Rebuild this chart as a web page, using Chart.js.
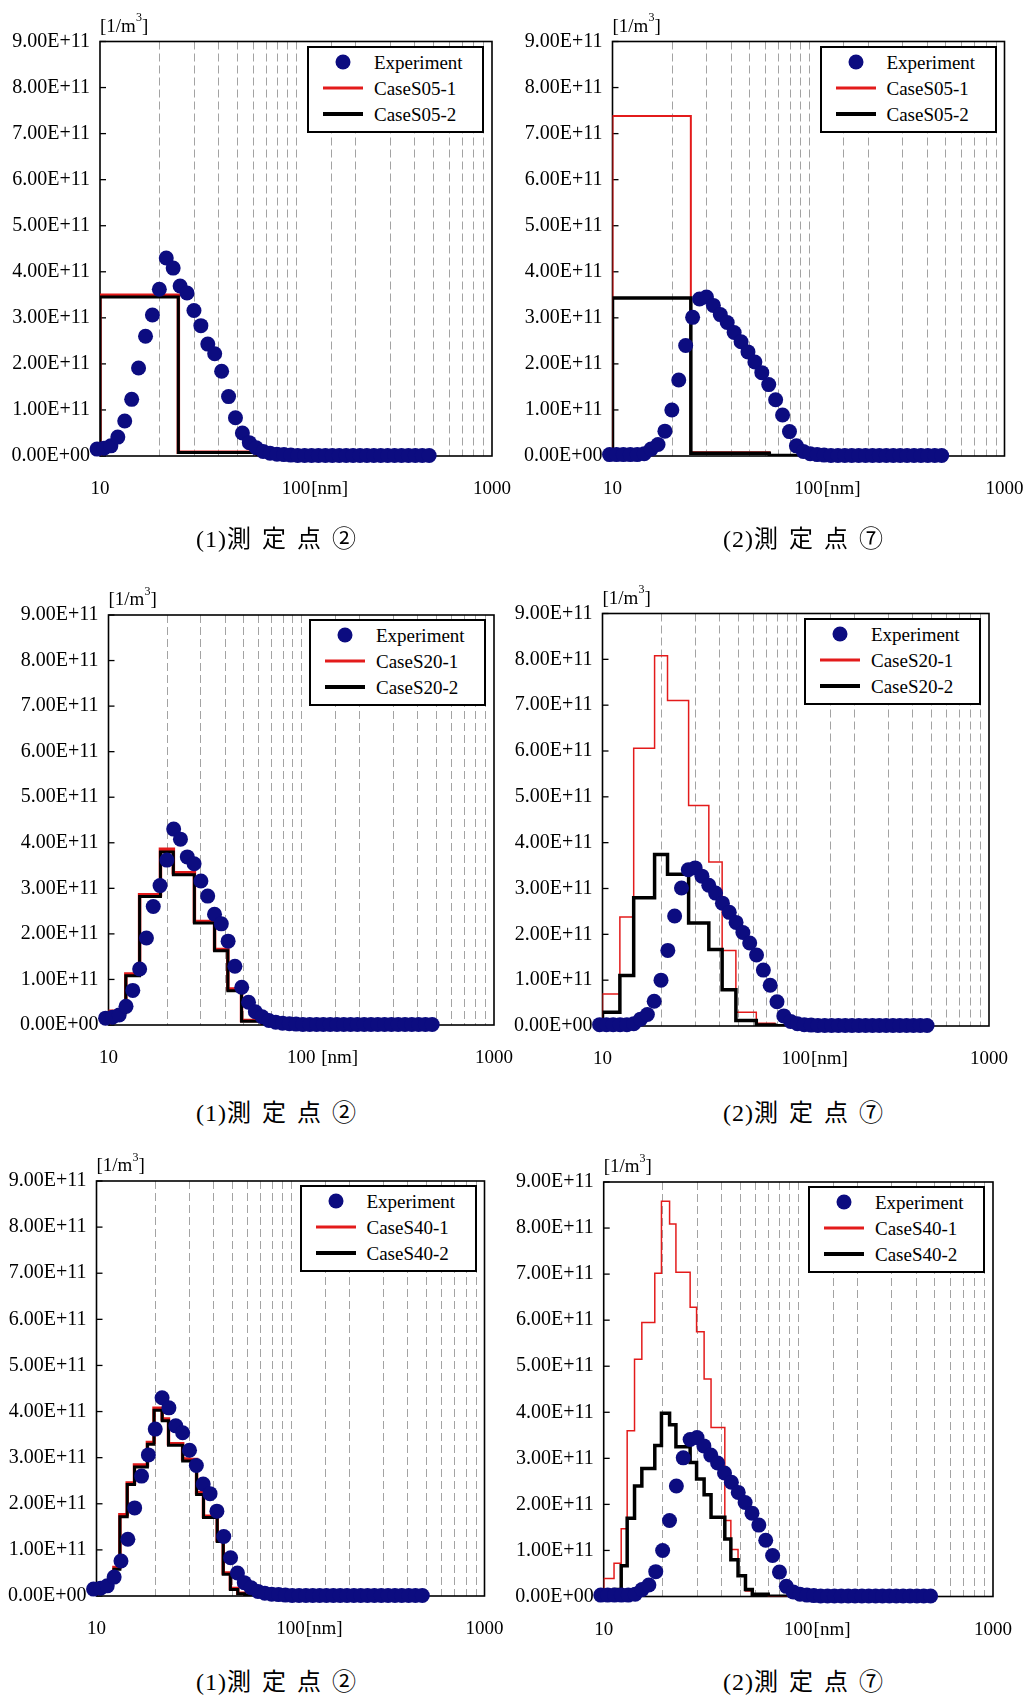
<!DOCTYPE html>
<html lang="ja">
<head>
<meta charset="utf-8">
<title>粒径分布の比較</title>
<script src="https://cdn.jsdelivr.net/npm/chart.js@4.4.1/dist/chart.umd.min.js"></script>
<style>
  html, body { margin: 0; padding: 0; background: #fff; overflow: hidden; }
  body { position: relative; width: 1025px; height: 1697px;
         font-family: "Liberation Serif", "Times New Roman", serif; color: #000; }
  canvas { position: absolute; }
  .unit { position: absolute; font-size: 19px; line-height: 20px; white-space: nowrap; transform: translateY(-50%); }
  .unit sup { font-size: 12px; line-height: 0; position: relative; top: -3px; }
  .legend { position: absolute; box-sizing: border-box; border: 2px solid #000; background: #fff; width: 177px; height: 87px; }
  .legend .item { position: absolute; left: 0; width: 100%; height: 26px; }
  .legend .sym { position: absolute; left: 34px; top: 50%; transform: translate(-50%, -50%); }
  .legend .dot { width: 15px; height: 15px; border-radius: 50%; }
  .legend .line { width: 40px; }
  .legend .txt { position: absolute; left: 65px; top: 50%; transform: translateY(-50%);
                 font-size: 19px; line-height: 1; white-space: nowrap; }
  .caption { position: absolute; transform: translate(-50%, -50%); white-space: nowrap; font-size: 24px; line-height: 1; }
  .caption .num { font-family: "Liberation Serif", serif; letter-spacing: 1px; }
  .caption .jp { font-family: "Noto Sans CJK JP", sans-serif; letter-spacing: 11px; margin-right: -11px; }
</style>
</head>
<body>
<script>
// Particle number concentration, in units of 10^11 per m^3.
const UNIT = 1e11;

// Measured mobility diameters [nm]
const diameters = [9.66, 10.48, 11.36, 12.33, 13.37, 14.51, 15.73, 17.07, 18.51, 20.08,
  21.78, 23.62, 25.63, 27.80, 30.16, 32.71, 35.48, 38.48, 41.74, 45.28,
  49.11, 53.27, 57.78, 62.67, 67.98, 73.74, 79.98, 86.76, 94.09, 102.0,
  110.7, 120.1, 130.2, 141.3, 153.2, 166.2, 180.3, 195.5, 212.1, 230.0,
  249.5, 270.6, 293.6, 318.4, 345.4, 374.6, 406.3, 440.7, 478.0];

// Experiment, measuring point 2
const exp2 = [0.15, 0.17, 0.22, 0.41, 0.76, 1.23, 1.91, 2.60, 3.06, 3.62,
  4.30, 4.08, 3.69, 3.54, 3.16, 2.83, 2.43, 2.22, 1.84, 1.29,
  0.83, 0.50, 0.29, 0.18, 0.10, 0.06, 0.04, 0.03, 0.02, 0.01,
  0.01, 0.01, 0.01, 0.01, 0.01, 0.01, 0.01, 0.01, 0.01, 0.01,
  0.01, 0.01, 0.01, 0.01, 0.01, 0.01, 0.01, 0.01, 0.01];

// Experiment, measuring point 7
const exp7 = [0.03, 0.03, 0.03, 0.03, 0.03, 0.05, 0.15, 0.25, 0.54, 1.00,
  1.65, 2.40, 3.01, 3.41, 3.45, 3.27, 3.07, 2.90, 2.68, 2.48,
  2.26, 2.04, 1.81, 1.55, 1.22, 0.89, 0.53, 0.22, 0.10, 0.05,
  0.03, 0.02, 0.01, 0.01, 0.01, 0.01, 0.01, 0.01, 0.01, 0.01,
  0.01, 0.01, 0.01, 0.01, 0.01, 0.01, 0.01, 0.01, 0.01];

// Sectional model: section boundaries [nm] and section concentrations
const edgesS05 = [10, 25.1, 63.1, 158.5, 398.1, 500];
const caseS05_1_pt2 = [3.49, 0.08, 0.005, 0.002, 0.001];
const caseS05_2_pt2 = [3.45, 0.075, 0.004, 0.002, 0.001];
const caseS05_1_pt7 = [7.38, 0.08, 0.02, 0.002, 0.001];
const caseS05_2_pt7 = [3.43, 0.06, 0.01, 0.002, 0.001];

const edgesS20 = [10, 12.3, 14.5, 18.6, 21.7, 27.9, 35.5, 41.6, 49.0, 62.5, 78.0, 500];
const caseS20_1_pt2 = [0.30, 1.12, 2.86, 3.86, 3.34, 2.27, 1.66, 0.79, 0.10, 0.01, 0.002];
const caseS20_2_pt2 = [0.27, 1.08, 2.82, 3.80, 3.30, 2.24, 1.63, 0.75, 0.08, 0.01, 0.002];
const caseS20_1_pt7 = [0.70, 2.38, 6.06, 8.08, 7.10, 4.81, 3.58, 1.65, 0.30, 0.06, 0.005];
const caseS20_2_pt7 = [0.30, 1.10, 2.80, 3.74, 3.31, 2.25, 1.67, 0.79, 0.12, 0.02, 0.003];

const edgesS40 = [10, 11.3, 12.3, 13.2, 14.4, 15.7, 18.3, 19.8, 21.8, 23.5, 27.8,
  30.0, 32.8, 35.6, 41.9, 45.0, 49.0, 53.5, 58.0, 70.0, 500];
const caseS40_1_pt2 = [0.20, 0.32, 0.62, 1.76, 2.45, 2.84, 3.33, 4.07, 3.84, 3.30,
  2.97, 2.96, 2.24, 1.73, 1.21, 0.50, 0.16, 0.06, 0.02, 0.003];
const caseS40_2_pt2 = [0.18, 0.30, 0.58, 1.72, 2.42, 2.80, 3.29, 4.03, 3.80, 3.27,
  2.93, 2.93, 2.20, 1.70, 1.18, 0.47, 0.14, 0.05, 0.02, 0.003];
const caseS40_1_pt7 = [0.39, 0.72, 1.47, 3.60, 5.15, 5.95, 7.02, 8.58, 8.09, 7.04,
  6.28, 5.75, 4.72, 3.67, 1.65, 1.02, 0.45, 0.12, 0.04, 0.005];
const caseS40_2_pt7 = [0.05, 0.15, 0.67, 1.70, 2.40, 2.78, 3.28, 3.98, 3.73, 3.25,
  2.91, 2.55, 2.21, 1.72, 1.25, 0.80, 0.45, 0.15, 0.05, 0.005];

// Axis labels
const xTickLabels = [10, 100, 1000];
const yMax = 9;

const NAVY = '#0c0c80';
const RED = '#e31b1b';
const X_FONT = { family: 'Liberation Serif', size: 19 };
const Y_FONT = { family: 'Liberation Serif', size: 20 };

// Page layout of the six panels (canvas box and plot area, page pixels)
const panels = [
  { box: [0, 0, 545, 520], area: { l: 100, t: 41.5, r: 492, b: 456 },
    edges: edgesS05, exp: exp2, case1: caseS05_1_pt2, case2: caseS05_2_pt2,
    names: ['CaseS05-1', 'CaseS05-2'], widths: [3.5, 3], xUnit: '[nm]',
    caption: ['(1)', '測定点②'], capPos: [276, 538] },
  { box: [512, 0, 545, 520], area: { l: 612.5, t: 41.5, r: 1004.5, b: 456 },
    edges: edgesS05, exp: exp7, case1: caseS05_1_pt7, case2: caseS05_2_pt7,
    names: ['CaseS05-1', 'CaseS05-2'], widths: [2, 3.5], xUnit: '[nm]',
    caption: ['(2)', '測定点⑦'], capPos: [803, 538] },
  { box: [0, 570, 545, 520], area: { l: 108.5, t: 615, r: 494, b: 1025 },
    edges: edgesS20, exp: exp2, case1: caseS20_1_pt2, case2: caseS20_2_pt2,
    names: ['CaseS20-1', 'CaseS20-2'], widths: [3.5, 3], xUnit: ' [nm]',
    caption: ['(1)', '測定点②'], capPos: [276, 1112] },
  { box: [512, 570, 545, 520], area: { l: 602.5, t: 613.5, r: 989, b: 1026 },
    edges: edgesS20, exp: exp7, case1: caseS20_1_pt7, case2: caseS20_2_pt7,
    names: ['CaseS20-1', 'CaseS20-2'], widths: [1.5, 3.5], xUnit: '[nm]',
    caption: ['(2)', '測定点⑦'], capPos: [803, 1112] },
  { box: [0, 1140, 545, 520], area: { l: 96.5, t: 1181, r: 484.5, b: 1596 },
    edges: edgesS40, exp: exp2, case1: caseS40_1_pt2, case2: caseS40_2_pt2,
    names: ['CaseS40-1', 'CaseS40-2'], widths: [3.5, 3], xUnit: '[nm]',
    caption: ['(1)', '測定点②'], capPos: [276, 1681] },
  { box: [512, 1140, 545, 520], area: { l: 603.7, t: 1182, r: 993, b: 1596.5 },
    edges: edgesS40, exp: exp7, case1: caseS40_1_pt7, case2: caseS40_2_pt7,
    names: ['CaseS40-1', 'CaseS40-2'], widths: [1.5, 3.5], xUnit: '[nm]',
    caption: ['(2)', '測定点⑦'], capPos: [803, 1681] }
];

function sciLabel(v) {
  if (v === 0) return '0.00E+00';
  const e = Math.floor(Math.log10(v) + 1e-9);
  const m = v / Math.pow(10, e);
  return m.toFixed(2) + 'E' + (e < 0 ? '-' : '+') + String(Math.abs(e)).padStart(2, '0');
}

function xLabel(v) {
  const hit = xTickLabels.find(l => Math.abs(l - v) / l < 1e-6);
  return hit ? String(hit) : '';
}

// Histogram outline of a sectional distribution
function sectionOutline(edges, vals) {
  const pts = [{ x: edges[0], y: 0 }];
  vals.forEach((v, i) => pts.push({ x: edges[i], y: v }));
  pts.push({ x: edges[edges.length - 1], y: vals[vals.length - 1] });
  return pts;
}

// Dashed vertical grid, inward y ticks, plot frame and the [nm] unit after "100"
const panelFrame = {
  id: 'panelFrame',
  beforeDatasetsDraw(chart) {
    const { ctx, chartArea: a, scales: { x, y } } = chart;
    ctx.save();
    ctx.strokeStyle = '#a3a3a3';
    ctx.lineWidth = 1;
    ctx.setLineDash([8, 4]);
    x.ticks.forEach(t => {
      if (t.value <= x.min * 1.0001 || t.value >= x.max * 0.9999) return;
      const px = Math.round(x.getPixelForValue(t.value)) + 0.5;
      ctx.beginPath();
      ctx.moveTo(px, a.top);
      ctx.lineTo(px, a.bottom);
      ctx.stroke();
    });
    ctx.setLineDash([]);
    ctx.strokeStyle = '#000';
    ctx.lineWidth = 1.3;
    y.ticks.forEach(t => {
      const py = y.getPixelForValue(t.value);
      ctx.beginPath();
      ctx.moveTo(a.left, py);
      ctx.lineTo(a.left + 6, py);
      ctx.stroke();
    });
    ctx.lineWidth = 1.6;
    ctx.strokeRect(a.left, a.top, a.right - a.left, a.bottom - a.top);
    ctx.restore();
  },
  afterDraw(chart, args, opts) {
    const x = chart.scales.x;
    const ctx = chart.ctx;
    ctx.save();
    ctx.font = "19px 'Liberation Serif'";
    ctx.fillStyle = '#000';
    ctx.textAlign = 'left';
    const w = ctx.measureText('100').width;
    const px = x.getPixelForValue(100);
    const items = typeof x.getLabelItems === 'function' ? x.getLabelItems() : null;
    const it = items ? items.find(i => i.label === '100') : null;
    if (it) {
      ctx.textBaseline = it.options.textBaseline;
      ctx.fillText(opts.unit, px + w / 2 + 1, it.options.translation[1] + it.textOffset);
    } else {
      ctx.textBaseline = 'middle';
      ctx.fillText(opts.unit, px + w / 2 + 1, chart.chartArea.bottom + 30);
    }
    ctx.restore();
  }
};

function makePanel(p) {
  const [left, top, w, h] = p.box;
  const a = p.area;
  const cv = document.createElement('canvas');
  cv.width = w; cv.height = h;
  cv.style.left = left + 'px';
  cv.style.top = top + 'px';
  document.body.appendChild(cv);

  const chart = new Chart(cv, {
    type: 'line',
    data: {
      datasets: [
        { label: 'Experiment', data: diameters.map((d, i) => ({ x: d, y: p.exp[i] })),
          showLine: false, pointRadius: 7.5, pointBackgroundColor: NAVY, pointBorderColor: NAVY,
          pointBorderWidth: 0, clip: false, order: 0 },
        { label: p.names[0], data: sectionOutline(p.edges, p.case1), stepped: true,
          borderColor: RED, backgroundColor: RED, borderWidth: p.widths[0], pointRadius: 0, fill: false, order: 2 },
        { label: p.names[1], data: sectionOutline(p.edges, p.case2), stepped: true,
          borderColor: '#000', backgroundColor: '#000', borderWidth: p.widths[1], pointRadius: 0, fill: false, order: 1 }
      ]
    },
    options: {
      responsive: false,
      animation: false,
      devicePixelRatio: 1,
      events: [],
      layout: { padding: { left: 0, top: a.t - top, right: left + w - a.r, bottom: 0 } },
      plugins: { legend: { display: false }, tooltip: { enabled: false }, panelFrame: { unit: p.xUnit } },
      scales: {
        x: {
          type: 'logarithmic', min: 10, max: 1000,
          grid: { display: false, drawTicks: false },
          border: { display: false },
          ticks: { autoSkip: false, maxRotation: 0, minRotation: 0, padding: 22, color: '#000',
                   font: X_FONT, callback: (v) => xLabel(v) },
          afterFit: (s) => { s.height = top + h - a.b; }
        },
        y: {
          type: 'linear', min: 0, max: yMax,
          grid: { display: false, drawTicks: false },
          border: { display: false },
          ticks: { stepSize: 1, autoSkip: false, padding: 10, color: '#000', font: Y_FONT,
                   callback: (v) => sciLabel(v * UNIT) },
          afterFit: (s) => { s.width = a.l - left; }
        }
      }
    },
    plugins: [panelFrame]
  });

  const ca = chart.chartArea;

  // unit of the concentration axis
  const unit = document.createElement('div');
  unit.className = 'unit';
  unit.innerHTML = '[1/m<sup>3</sup>]';
  unit.style.left = (left + ca.left) + 'px';
  unit.style.top = (top + ca.top - 16) + 'px';
  document.body.appendChild(unit);

  // boxed legend in the upper right corner of the plot
  const legendLine = [0, 3, 4];
  const box = document.createElement('div');
  box.className = 'legend';
  box.style.left = (left + ca.right - 8 - 177) + 'px';
  box.style.top = (top + ca.top + 4) + 'px';
  chart.data.datasets.forEach((ds, i) => {
    const item = document.createElement('div');
    item.className = 'item';
    item.style.top = (1 + 26 * i) + 'px';
    const sym = document.createElement('span');
    sym.className = 'sym';
    if (ds.showLine === false) {
      sym.classList.add('dot');
      sym.style.background = ds.pointBackgroundColor;
    } else {
      sym.classList.add('line');
      sym.style.height = legendLine[i] + 'px';
      sym.style.background = ds.borderColor;
    }
    const txt = document.createElement('span');
    txt.className = 'txt';
    txt.textContent = ds.label;
    item.append(sym, txt);
    box.appendChild(item);
  });
  document.body.appendChild(box);

  // caption under the panel
  const cap = document.createElement('div');
  cap.className = 'caption';
  cap.style.left = p.capPos[0] + 'px';
  cap.style.top = p.capPos[1] + 'px';
  const num = document.createElement('span');
  num.className = 'num';
  num.textContent = p.caption[0];
  const jp = document.createElement('span');
  jp.className = 'jp';
  jp.textContent = p.caption[1];
  cap.append(num, jp);
  document.body.appendChild(cap);
}

panels.forEach(makePanel);
</script>
</body>
</html>
